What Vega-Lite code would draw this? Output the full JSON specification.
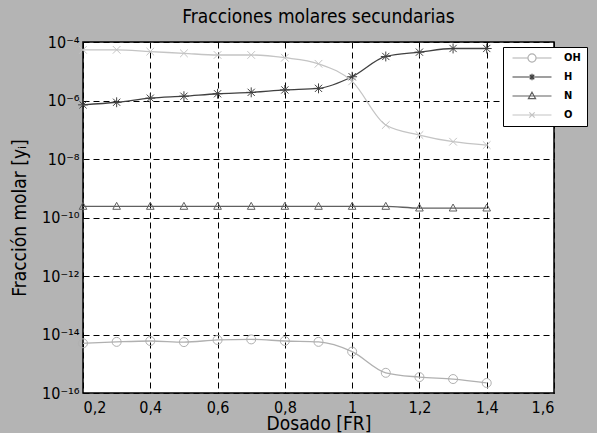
{
  "$schema": "https://vega.github.io/schema/vega-lite/v6.json",
  "width": 471,
  "height": 351,
  "autosize": {"type": "none"},
  "padding": {"left": 83, "top": 42, "right": 43, "bottom": 40},
  "background": "#b4b4b4",
  "title": {"text": "Fracciones molares secundarias", "fontSize": 19, "fontWeight": "normal", "offset": 7, "anchor": "middle", "color": "black"},
  "config": {
    "font": "DejaVu Sans Condensed, sans-serif",
    "view": {"stroke": "black", "strokeWidth": 1.5, "fill": "white"},
    "axis": {"grid": true, "gridColor": "black", "gridDash": [6, 4], "gridWidth": 1, "gridOpacity": 1, "ticks": false, "domain": false, "labelColor": "black", "titleColor": "black", "labelFontSize": 16, "titleFontSize": 19, "titleFontWeight": "normal"}
  },
  "data": {
    "values": [
      {"x": 0.2, "s": "OH", "y": 5.0e-15}, {"x": 0.3, "s": "OH", "y": 5.6e-15}, {"x": 0.4, "s": "OH", "y": 6.0e-15}, {"x": 0.5, "s": "OH", "y": 5.5e-15}, {"x": 0.6, "s": "OH", "y": 6.5e-15}, {"x": 0.7, "s": "OH", "y": 6.8e-15}, {"x": 0.8, "s": "OH", "y": 6.0e-15}, {"x": 0.9, "s": "OH", "y": 5.6e-15}, {"x": 1.0, "s": "OH", "y": 2.6e-15}, {"x": 1.1, "s": "OH", "y": 4.9e-16}, {"x": 1.2, "s": "OH", "y": 3.5e-16}, {"x": 1.3, "s": "OH", "y": 3.0e-16}, {"x": 1.4, "s": "OH", "y": 2.2e-16},
      {"x": 0.2, "s": "H", "y": 7.1e-7}, {"x": 0.3, "s": "H", "y": 8.7e-7}, {"x": 0.4, "s": "H", "y": 1.2e-6}, {"x": 0.5, "s": "H", "y": 1.4e-6}, {"x": 0.6, "s": "H", "y": 1.7e-6}, {"x": 0.7, "s": "H", "y": 1.9e-6}, {"x": 0.8, "s": "H", "y": 2.3e-6}, {"x": 0.9, "s": "H", "y": 2.6e-6}, {"x": 1.0, "s": "H", "y": 6.5e-6}, {"x": 1.1, "s": "H", "y": 3.2e-5}, {"x": 1.2, "s": "H", "y": 4.5e-5}, {"x": 1.3, "s": "H", "y": 6.0e-5}, {"x": 1.4, "s": "H", "y": 6.0e-5},
      {"x": 0.2, "s": "N", "y": 2.4e-10}, {"x": 0.3, "s": "N", "y": 2.4e-10}, {"x": 0.4, "s": "N", "y": 2.4e-10}, {"x": 0.5, "s": "N", "y": 2.4e-10}, {"x": 0.6, "s": "N", "y": 2.4e-10}, {"x": 0.7, "s": "N", "y": 2.4e-10}, {"x": 0.8, "s": "N", "y": 2.4e-10}, {"x": 0.9, "s": "N", "y": 2.4e-10}, {"x": 1.0, "s": "N", "y": 2.4e-10}, {"x": 1.1, "s": "N", "y": 2.4e-10}, {"x": 1.2, "s": "N", "y": 2.1e-10}, {"x": 1.3, "s": "N", "y": 2.1e-10}, {"x": 1.4, "s": "N", "y": 2.1e-10},
      {"x": 0.2, "s": "O", "y": 5.4e-5}, {"x": 0.3, "s": "O", "y": 5.4e-5}, {"x": 0.4, "s": "O", "y": 4.7e-5}, {"x": 0.5, "s": "O", "y": 4.1e-5}, {"x": 0.6, "s": "O", "y": 3.6e-5}, {"x": 0.7, "s": "O", "y": 3.6e-5}, {"x": 0.8, "s": "O", "y": 2.9e-5}, {"x": 0.9, "s": "O", "y": 1.8e-5}, {"x": 1.0, "s": "O", "y": 4.5e-6}, {"x": 1.1, "s": "O", "y": 1.45e-7}, {"x": 1.2, "s": "O", "y": 6.6e-8}, {"x": 1.3, "s": "O", "y": 3.9e-8}, {"x": 1.4, "s": "O", "y": 3.0e-8}
    ]
  },
  "encoding": {
    "x": {"field": "x", "type": "quantitative", "scale": {"domain": [0.2, 1.6], "nice": false, "zero": false},
      "axis": {"title": "Dosado [FR]", "values": [0.2, 0.4, 0.6, 0.8, 1.0, 1.2, 1.4, 1.6], "labelExpr": "datum.value == 1 ? '1' : replace(format(datum.value, '.1f'), '.', ',')", "labelPadding": 6, "titlePadding": -1}},
    "y": {"field": "y", "type": "quantitative", "scale": {"type": "log", "domain": [1e-16, 1e-4], "nice": false},
      "axis": {"title": "Fracción molar [yᵢ]", "values": [1e-16, 1e-14, 1e-12, 1e-10, 1e-8, 1e-6, 1e-4], "labelPadding": 4, "titlePadding": 12,
        "labelExpr": "'10' + replace(replace(replace(replace(replace(replace(replace(replace('' + round(log(datum.value)/LN10), '-', '⁻'), '1', '¹'), '2', '²'), '4', '⁴'), '6', '⁶'), '8', '⁸'), '0', '⁰'), '5', '⁵')"}},
    "color": {"field": "s", "type": "nominal", "scale": {"domain": ["OH", "H", "N", "O"], "range": ["#b0b0b0", "#404040", "#606060", "#c4c4c4"]},
      "legend": {"title": null, "orient": "none", "legendX": 420, "legendY": 5, "fillColor": "white", "strokeColor": "black", "padding": 6, "cornerRadius": 0, "symbolSize": 100, "clipHeight": 10, "symbolOffset": 17.5, "labelFontSize": 11, "labelFontWeight": "bold", "labelColor": "black", "labelOffset": 26.5, "rowPadding": 8,
        "encode": {"symbols": {"update": {
          "shape": {"signal": "datum.value === 'OH' ? 'M-4.33,0L-0.9,0M0.9,0L4.33,0M0.9,0A0.9,0.9 0 1,1 -0.9,0A0.9,0.9 0 1,1 0.9,0Z' : datum.value === 'H' ? 'M-4.33,0L4.33,0M0,-0.7L0,0.7M-0.5,-0.5L0.5,0.5M-0.5,0.5L0.5,-0.5' : datum.value === 'N' ? 'M-4.33,0L4.33,0M0,-0.85L0.8,0.6L-0.8,0.6Z' : 'M-4.33,0L4.33,0M-0.6,-0.6L0.6,0.6M-0.6,0.6L0.6,-0.6'"},
          "size": {"value": 81},
          "fill": {"value": "transparent"},
          "strokeWidth": {"value": 1.2},
          "opacity": {"value": 1}
        }}}}}
  },
  "layer": [
    {"mark": {"type": "line", "interpolate": "monotone", "strokeWidth": 1.3}},
    {"mark": {"type": "point", "filled": false, "size": 81, "strokeWidth": 1, "opacity": 1},
     "encoding": {
       "shape": {"condition": [
         {"test": "datum.s === 'OH'", "value": "M1,0A1,1 0 1,1 -1,0A1,1 0 1,1 1,0Z"},
         {"test": "datum.s === 'H'", "value": "M-1.1,0L1.1,0M0,-1.1L0,1.1M-0.8,-0.8L0.8,0.8M-0.8,0.8L0.8,-0.8"},
         {"test": "datum.s === 'N'", "value": "M0,-0.9L0.85,0.65L-0.85,0.65Z"}
       ], "value": "M-0.85,-0.85L0.85,0.85M-0.85,0.85L0.85,-0.85"}
     }}
  ]
}
